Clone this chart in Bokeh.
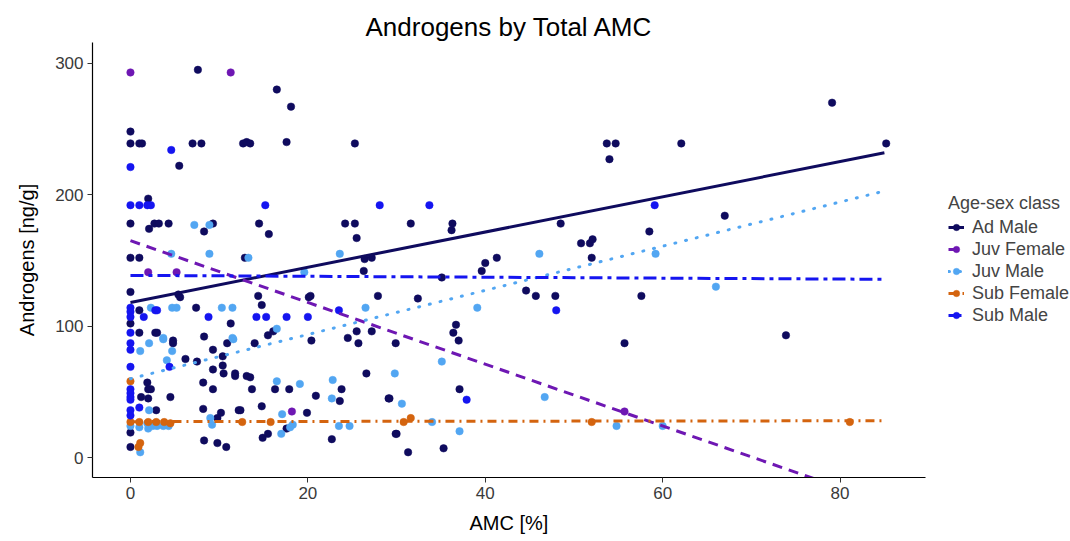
from bokeh.plotting import figure
from bokeh.models import Range1d, Legend, LegendItem, FixedTicker, Title
from bokeh.embed import file_html
from bokeh.resources import INLINE
import numpy as np

groups = ["Ad Male", "Juv Female", "Juv Male", "Sub Female", "Sub Male"]
colors = ["#0f0b5e", "#6e17b3", "#52a6f2", "#d4640f", "#1515f0"]
dashes = ["solid", "10 7", "1 10", "9 5 2 5", "13 5 4 5"]
fit_intercept = [118.0, 165.0, 60.0, 27.3, 138.6]
fit_slope = [1.34, -2.35, 1.68, 0.008, -0.035]
fit_x = [0.0, 85.0]
x_ticks = [0, 20, 40, 60, 80]
y_ticks = [0, 100, 200, 300]

ad_male_x = [7.6, 0, 0, 1.0, 1.3, 7.0, 8.0, 12.7, 13.1, 13.5, 5.5, 2.0, 16.5, 18.1, 17.6, 25.3,
             14.5, 15.6, 24.2, 25.3, 25.5, 12.9, 0, 2.7, 3.2, 4.3, 2.1, 9.3, 8.3, 0, 1.0, 0, 5.4,
             5.6, 0, 1.0, 7.4, 11.3, 1.0, 2.8, 3.0, 8.3, 4.8, 4.8, 10.9, 6.2, 7.5, 9.3, 10.4, 10.4,
             11.8, 11.8, 13.1, 9.3, 10.5, 1.9, 2.3, 2.0, 8.2, 9.3, 1.2, 2.0, 4.5, 2.9, 8.2, 10.2,
             12.2, 9.8, 0, 0, 8.3, 9.8, 10.8,
             26.4, 27.2, 26.3, 14.4, 14.8, 20.1, 20.3, 27.9, 15.5, 16.1, 14.0, 20.4, 25.5, 27.2,
             24.5, 25.7, 29.9, 13.5, 13.7, 16.3, 17.9, 26.6, 23.8, 23.6, 20.9, 29.1, 12.4, 14.8,
             19.9, 17.6, 14.9, 15.5, 22.7, 30.0,
             31.6, 36.3, 36.2, 41.3, 40.0, 39.6, 35.1, 44.6, 45.7, 47.9, 32.4, 36.7, 36.4, 37.0,
             29.2, 37.1, 29.9, 31.3, 35.3,
             53.7, 54.7, 54.0, 62.1, 48.5, 50.8, 51.8, 52.1, 52.0, 58.5, 57.6, 55.7,
             79.1, 85.2, 67.0, 73.9]
ad_male_y = [295, 248, 239, 239, 239, 239, 239, 239, 240, 239, 222, 197, 280, 267, 240, 239,
             178, 170, 178, 178, 167, 152, 178, 178, 178, 178, 174, 178, 172, 152, 152, 126, 124,
             122, 102, 112, 114, 102, 95, 95, 95, 92, 89, 87, 87, 75, 73, 82, 77, 70,
             64, 62, 62, 67, 64, 57, 52, 52, 57, 52, 46, 45, 46, 36, 37, 34,
             36, 30, 19, 8, 13, 11, 8,
             151, 152, 142, 123, 116, 122, 123, 123, 93, 96, 87, 89, 96, 96,
             91, 87, 87, 61, 52, 52, 52, 64, 52, 43, 47, 45, 36, 39,
             34, 22, 15, 18, 14, 18,
             178, 178, 173, 152, 148, 142, 137, 127, 123, 123, 121, 101, 95, 89,
             45, 52, 18, 4, 7,
             239, 239, 227, 239, 178, 163, 163, 166, 152, 172, 123, 87,
             270, 239, 184, 93]

juv_female_x = [0, 11.3, 2.0, 5.2, 18.2, 55.7]
juv_female_y = [293, 293, 141, 141, 35, 35]

juv_male_x = [23.6, 13.3, 7.2, 8.9, 4.6, 8.9, 2.3, 4.7, 5.2, 10.3, 11.5, 11.5, 3.7, 2.1, 3.7,
              11.6, 1.1, 4.7, 4.1, 2.1, 1.0, 2.0, 2.5, 3.0, 3.7, 4.3, 1.9, 9.2, 1.1, 0, 9.0,
              19.6, 26.5, 16.5, 16.5, 19.1, 29.8, 22.8, 22.7, 17.1, 17.0, 18.0, 18.3, 23.5, 24.7,
              46.1, 39.1, 35.1, 30.6, 46.7, 34.0, 37.1,
              59.2, 66.0, 54.8, 60.0]
juv_male_y = [155, 152, 177, 177, 155, 155, 114, 114, 114, 114, 114, 91, 91, 87, 90,
              90, 81, 81, 74, 36, 23, 22, 24, 24, 24, 24, 26, 25, 4, 24, 30,
              141, 114, 98, 58, 56, 64, 59, 45, 33, 18, 23, 25, 24, 24,
              155, 114, 73, 41, 46, 27, 20,
              155, 130, 24, 24]

sub_female_x = [0, 0, 1.0, 2.0, 2.9, 3.8, 4.5, 12.6, 15.8, 1.1, 0.9, 30.8, 31.6, 52.0, 81.1]
sub_female_y = [58, 27, 27, 27, 27, 27, 26, 27, 27, 11, 8, 27, 30, 27, 27]

sub_male_x = [0, 4.6, 0, 1.0, 1.9, 2.3, 15.2, 28.1, 0, 0, 0, 1.5, 2.8, 3.0, 8.8, 0, 0, 0, 4.4,
              0, 0, 0, 0, 0, 1.0, 0, 0, 14.2, 15.3, 17.6, 20.0, 23.5, 33.7, 48.0, 37.9, 59.1]
sub_male_y = [221, 234, 192, 192, 192, 192, 192, 192, 114, 111, 107, 107, 112, 112, 107, 95, 87,
              82, 69, 69, 52, 49, 46, 44, 38, 36, 32, 107, 107, 107, 107, 112, 192, 112, 44, 192]

xs = [ad_male_x, juv_female_x, juv_male_x, sub_female_x, sub_male_x]
ys = [ad_male_y, juv_female_y, juv_male_y, sub_female_y, sub_male_y]

FONT = "Liberation Sans"

X_LO, X_HI = -4.28, 89.6          # visible data panel
PX_PER_X = 8.87
X_CANVAS_HI = X_LO + (1070 - 92) / PX_PER_X   # frame extends under the legend area

p = figure(width=1070, height=541, output_backend="svg", toolbar_location=None,
           x_range=Range1d(X_LO, X_CANVAS_HI), y_range=Range1d(-15.2, 315.8),
           min_border_left=92, min_border_right=0, min_border_top=42, min_border_bottom=64,
           title="Androgens by Total AMC")
p.outline_line_color = None
p.xgrid.visible = False
p.ygrid.visible = False
p.background_fill_color = "white"
p.border_fill_color = "white"

p.title.align = "left"
p.title.offset = 273
p.title.text_font = FONT
p.title.text_font_size = "26px"
p.title.text_font_style = "normal"
p.title.text_color = "black"
p.title.standoff = 1

for ax in (p.xaxis[0], p.yaxis[0]):
    ax.axis_line_color = "black"
    ax.axis_line_width = 1.2
    ax.major_tick_line_color = "#333333"
    ax.major_tick_out = 5
    ax.major_tick_in = 0
    ax.minor_tick_line_color = None
    ax.major_label_text_font = FONT
    ax.major_label_text_font_size = "17px"
    ax.major_label_text_color = "#3a3a3a"
    ax.axis_label_text_font = FONT
    ax.axis_label_text_font_size = "20px"
    ax.axis_label_text_font_style = "normal"
    ax.axis_label_text_color = "black"

p.xaxis.bounds = (X_LO, X_HI)
p.xaxis.ticker = FixedTicker(ticks=x_ticks)
p.yaxis.ticker = FixedTicker(ticks=y_ticks)
p.yaxis.axis_label = "Androgens [ng/g]"
p.yaxis.axis_label_standoff = 14
p.xaxis.major_label_standoff = 4
p.yaxis.major_label_standoff = 4

# x axis label, centred under the data panel (not under the legend area)
xlabel = Title(text="AMC [%]", align="left", offset=377, standoff=16,
               text_font=FONT, text_font_size="20px", text_font_style="normal",
               text_color="black")
p.add_layout(xlabel, "below")

scatters = []
for g, c, x, y in zip(groups, colors, xs, ys):
    r = p.scatter(x, y, size=7.5, fill_color=c, line_color=c, line_width=0.5)
    scatters.append(r)

lines = []
for g, c, d, b0, b1 in zip(groups, colors, dashes, fit_intercept, fit_slope):
    lx = np.array(fit_x)
    ly = b0 + b1 * lx
    kw = {}
    if d == "1 10":
        kw["line_cap"] = "round"
    r = p.line(lx, ly, line_color=c, line_width=3, line_dash=d, **kw)
    lines.append(r)

items = [LegendItem(label=g, renderers=[l, s]) for g, l, s in zip(groups, lines, scatters)]
legend = Legend(items=items, location=(856, 151), title="Age-sex class",
                title_text_font=FONT, title_text_font_size="18px", title_text_font_style="normal",
                label_text_font=FONT, label_text_font_size="18px",
                border_line_color=None, background_fill_alpha=0,
                padding=0, margin=0, spacing=0, glyph_width=16, glyph_height=22,
                label_height=22, label_standoff=8, title_standoff=2)
p.add_layout(legend, "center")

open("out.html", "w").write(file_html(p, INLINE))
